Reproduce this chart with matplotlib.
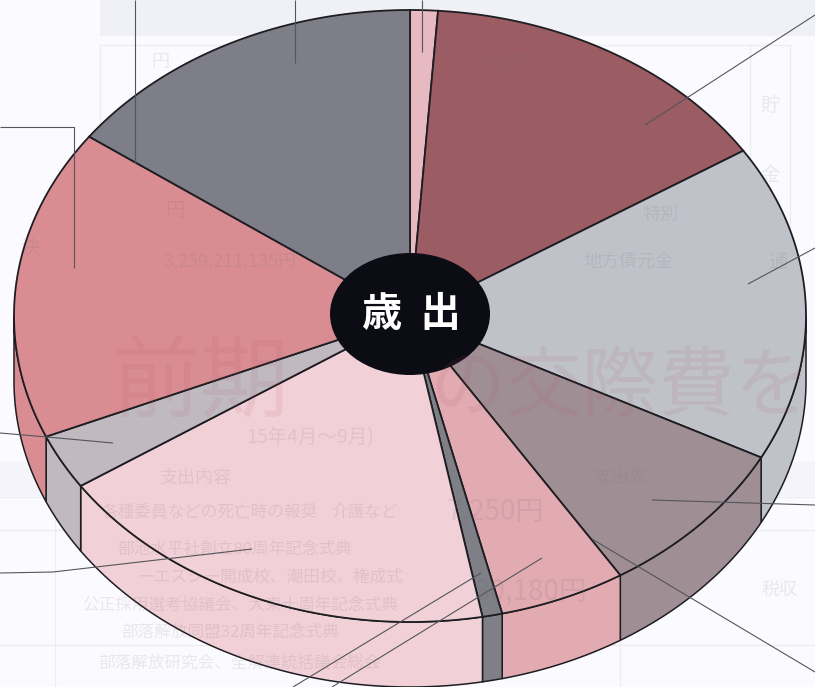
import numpy as np
import matplotlib
matplotlib.use("Agg")
import matplotlib.pyplot as plt
from matplotlib.patches import Polygon, Ellipse, Rectangle

plt.rcParams['font.family'] = ['Noto Sans CJK JP', 'DejaVu Sans']

# Slice shares of the ring, in percent, clockwise from 12 o'clock
slice_names = ["a", "b", "c", "d", "e", "f", "g", "h", "i", "j"]
slice_values = [1.13, 14.79, 16.73, 8.44, 5.17, 0.81, 18.56, 2.92, 16.42, 15.03]
slice_colors = ["#E6BAC0", "#9B5C63", "#BFC2C9", "#A08E95", "#E2ABB1",
                "#7E7F87", "#F1D0D7", "#C0B9C0", "#D98D92", "#7D7E87"]
center_label = "歳  出"

W, H = 815, 687
CX, CY, A, B, DEPTH = 410, 316, 396, 306, 65
HOLE_RX, HOLE_RY = 80, 61
EDGE = "#1d1d22"

fig = plt.figure(figsize=(W / 100, H / 100), dpi=100, facecolor="#FBFBFF")
ax = fig.add_axes([0, 0, 1, 1])
ax.set_xlim(0, W)
ax.set_ylim(H, 0)
ax.axis("off")


def rim(theta_deg, dy=0):
    t = np.radians(theta_deg)
    return np.column_stack([CX + A * np.sin(t), CY - B * np.cos(t) + dy])


# faint show-through of the printed page, below the pie
for (x, y, w, h, c) in [(100, 0, 715, 36, "#F0F0F7"), (0, 462, 815, 34, "#F4F4FA")]:
    ax.add_patch(Rectangle((x, y), w, h, fc=c, ec="none", zorder=0))
for (x0, y0, x1, y1) in [(100, 45, 790, 45), (100, 45, 100, 293), (100, 293, 790, 293),
                         (790, 45, 790, 293), (750, 45, 750, 293), (0, 497, 815, 497),
                         (0, 530, 815, 530), (0, 645, 815, 645), (55, 462, 55, 687),
                         (620, 462, 620, 687), (55, 183, 100, 183)]:
    ax.plot([x0, x1], [y0, y1], color="#ECECF5", lw=1, zorder=0)

edges = np.concatenate([[0], np.cumsum(slice_values)]) / sum(slice_values) * 360

# side wall: only the part of each slice on the front half
for i, col in enumerate(slice_colors):
    lo, hi = max(edges[i], 90), min(edges[i + 1], 270)
    if lo >= hi:
        continue
    th = np.linspace(lo, hi, 80)
    pts = np.vstack([rim(th), rim(th[::-1], DEPTH)])
    ax.add_patch(Polygon(pts, closed=True, fc=col, ec=EDGE, lw=1.1, zorder=2))

# top face
for i, col in enumerate(slice_colors):
    th = np.linspace(edges[i], edges[i + 1], 120)
    pts = np.vstack([[CX, CY], rim(th)])
    ax.add_patch(Polygon(pts, closed=True, fc=col, ec=EDGE, lw=1.3, zorder=3))

ax.add_patch(Ellipse((CX, CY - 2), 2 * HOLE_RX, 2 * HOLE_RY, fc="#0C0C14", ec="none", zorder=4))
ax.text(CX + 1, CY - 1, center_label, color="white", fontsize=29, fontweight="bold",
        ha="center", va="center", zorder=6)

# leader lines
leaders = [
    [(422, 52), (422, 0)],
    [(295, 63), (295, 0)],
    [(135, 163), (135, 0)],
    [(74, 268), (74, 127), (0, 127)],
    [(645, 125), (815, 15)],
    [(748, 284), (815, 248)],
    [(652, 500), (815, 505)],
    [(592, 539), (815, 672)],
    [(542, 558), (332, 687)],
    [(481, 573), (293, 687)],
    [(252, 549), (53, 572), (0, 573)],
    [(113, 443), (47, 437), (0, 433)],
]
for seg in leaders:
    xs, ys = zip(*seg)
    ax.plot(xs, ys, color="#55555C", lw=0.8, zorder=5, solid_capstyle="butt")

# faint page text showing through the chart
ghost = [
    (500, 62, "財政課", 13, "#6a6a78"),
    (160, 62, "円", 13, "#6a6a78"),
    (770, 105, "貯", 14, "#6a6a78"),
    (770, 175, "金", 14, "#6a6a78"),
    (660, 215, "特別", 13, "#6a6a78"),
    (628, 262, "地方債元金", 13, "#6a6a78"),
    (778, 262, "通", 14, "#6a6a78"),
    (175, 210, "円", 14, "#6a6a78"),
    (230, 262, "3,259,211,135円", 13, "#6a6a78"),
    (30, 248, "決", 14, "#6a6a78"),
    (200, 385, "前期", 64, "#b05060"),
    (620, 388, "の交際費を", 55, "#b05060"),
    (310, 438, "15年4月～9月)", 14, "#8a6070"),
    (195, 478, "支出内容", 13, "#8a6070"),
    (620, 478, "支出先", 13, "#8a6070"),
    (210, 512, "各種委員などの死亡時の報奨", 12, "#7a6070"),
    (365, 512, "介護など", 12, "#7a6070"),
    (235, 549, "部池水平社創立80周年記念式典", 12, "#7a6070"),
    (270, 577, "ーエスシー開成校、潮田校、権成式", 12, "#7a6070"),
    (240, 605, "公正採用選考協議会、大東十周年記念式典", 12, "#7a6070"),
    (230, 632, "部落解放同盟32周年記念式典", 12, "#7a6070"),
    (240, 663, "部落解放研究会、全解連統括議会総会", 12, "#7a6070"),
    (495, 512, "7,250円", 20, "#7a6070"),
    (530, 592, "30,180円", 20, "#7a6070"),
    (780, 590, "税収", 13, "#7a6070"),
]
for x, y, s, fs, c in ghost:
    alpha = 0.10 if fs > 40 else 0.13
    ax.text(x, y, s, fontsize=fs, color=c, alpha=alpha, ha="center", va="center", zorder=5.5)

fig.savefig("out.png", dpi=100, facecolor=fig.get_facecolor())
